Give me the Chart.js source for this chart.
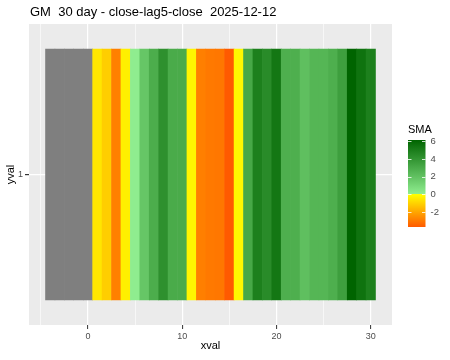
<!DOCTYPE html>
<html>
<head>
<meta charset="utf-8">
<script src="https://cdn.jsdelivr.net/npm/chart.js@4.4.1/dist/chart.umd.min.js"></script>
<style>
  html, body { margin: 0; padding: 0; background: #fff; }
</style>
</head>
<body>
<canvas id="chart" width="450" height="360"></canvas>
<script>
// one tile per day, NA (grey) for the first few
const xval = [-4, -3, -2, -1, 0, 1, 2, 3, 4, 5, 6, 7, 8, 9, 10, 11, 12, 13, 14, 15,
              16, 17, 18, 19, 20, 21, 22, 23, 24, 25, 26, 27, 28, 29, 30];
const sma = [null, null, null, null, null,
             -0.56, -1.1, -2.85, -0.34, 0.05, 1.8, 2.9, 4.2, 3.0, 3.0,
             -0.22, -2.87, -3.0, -3.05, -3.7, -0.15, 3.1, 4.9, 4.4, 5.3,
             2.8, 2.8, 2.1, 2.5, 2.5, 2.8, 3.5, 6.15, 5.5, 4.9];
const yval = ['1'];
const xTicks = [0, 10, 20, 30];
const xMinor = [-5, 5, 15, 25];
const legendTicks = [6, 4, 2, 0, -2];

const font = "'Liberation Sans', Arial, sans-serif";
const smaVals = sma.filter(v => v !== null);
const smaMin = Math.min(...smaVals);
const smaMax = Math.max(...smaVals);

const lowCol = [255, 90, 0];
const zeroNeg = [255, 255, 0];
const zeroPos = [144, 238, 144];
const highCol = [0, 100, 0];

function mix(a, b, t) {
	return 'rgb(' + a.map((c, i) => Math.round(c + (b[i] - c) * t)).join(',') + ')';
}
function fillFor(v) {
	if (v === null) return '#7F7F7F';
	if (v >= 0) return mix(zeroPos, highCol, v / smaMax);
	return mix(zeroNeg, lowCol, v / smaMin);
}

const panelBg = {
	id: 'panelBg',
	beforeDraw(chart) {
		const { ctx, chartArea: a } = chart;
		ctx.save();
		ctx.fillStyle = '#EBEBEB';
		ctx.fillRect(a.left, a.top, a.right - a.left, a.bottom - a.top);
		ctx.restore();
	}
};

const titleAndLegend = {
	id: 'titleAndLegend',
	afterDraw(chart) {
		const ctx = chart.ctx;
		ctx.save();
		ctx.fillStyle = '#000';
		ctx.font = '13px ' + font;
		ctx.textBaseline = 'middle';
		ctx.textAlign = 'left';
		ctx.fillText('GM  30 day - close-lag5-close  2025-12-12', 30, 12);

		// colour bar
		const bx = 408, bw = 17.5, top = 140, bottom = 227;
		const py = v => top + (smaMax - v) / (smaMax - smaMin) * (bottom - top);
		const z = (py(0) - top) / (bottom - top);
		const g = ctx.createLinearGradient(0, top, 0, bottom);
		g.addColorStop(0, mix(highCol, highCol, 0));
		g.addColorStop(z, mix(zeroPos, zeroPos, 0));
		g.addColorStop(Math.min(1, z + 0.001), mix(zeroNeg, zeroNeg, 0));
		g.addColorStop(1, mix(lowCol, lowCol, 0));
		ctx.fillStyle = g;
		ctx.fillRect(bx, top, bw, bottom - top);

		ctx.fillStyle = '#000';
		ctx.font = '11px ' + font;
		ctx.fillText('SMA', bx, 130);

		ctx.font = '9.5px ' + font;
		ctx.strokeStyle = 'rgba(255,255,255,0.8)';
		ctx.lineWidth = 1;
		legendTicks.forEach(t => {
			const y = Math.round(py(t)) + 0.5;
			ctx.beginPath();
			ctx.moveTo(bx, y); ctx.lineTo(bx + 3.5, y);
			ctx.moveTo(bx + bw - 3.5, y); ctx.lineTo(bx + bw, y);
			ctx.stroke();
			ctx.fillStyle = '#4D4D4D';
			ctx.fillText(String(t), bx + bw + 5, py(t));
		});
		ctx.restore();
	}
};

new Chart(document.getElementById('chart'), {
	type: 'bar',
	data: {
		datasets: [{
			data: xval.map(x => ({ x: x, y: [0.5, 1.5] })),
			backgroundColor: sma.map(fillFor),
			borderWidth: 0,
			barPercentage: 1,
			categoryPercentage: 1,
			inflateAmount: 0.3
		}]
	},
	options: {
		responsive: false,
		animation: false,
		events: [],
		layout: { padding: { top: 24, right: 58, left: 0, bottom: 0 } },
		plugins: { legend: { display: false }, tooltip: { enabled: false } },
		scales: {
			x: {
				type: 'linear',
				min: -6.25,
				max: 32.25,
				offset: false,
				afterBuildTicks: s => {
					s.ticks = [...xMinor, ...xTicks].sort((a, b) => a - b).map(v => ({ value: v }));
				},
				afterFit: s => { s.height = 35; },
				border: { display: false },
				grid: {
					offset: false,
					color: '#FFFFFF',
					lineWidth: c => xTicks.includes(c.tick.value) ? 1.2 : 0.6,
					tickColor: c => xTicks.includes(c.tick.value) ? '#333333' : 'rgba(0,0,0,0)',
					tickLength: 4,
					tickWidth: 1
				},
				ticks: {
					autoSkip: false,
					maxRotation: 0,
					padding: 2,
					color: '#4D4D4D',
					font: { family: font, size: 9 },
					callback: v => xTicks.includes(v) ? String(v) : ''
				},
				title: {
					display: true,
					text: 'xval',
					color: '#000',
					font: { family: font, size: 11 },
					padding: { top: 0, bottom: 7 }
				}
			},
			y: {
				type: 'linear',
				min: 0.4,
				max: 1.6,
				afterBuildTicks: s => { s.ticks = [{ value: 1 }]; },
				afterFit: s => { s.width = 29; },
				border: { display: false },
				grid: {
					color: '#FFFFFF',
					lineWidth: 1.2,
					tickColor: '#333333',
					tickLength: 4
				},
				ticks: {
					padding: 2,
					color: '#4D4D4D',
					font: { family: font, size: 9 },
					callback: () => yval[0]
				},
				title: {
					display: true,
					text: 'yval',
					color: '#000',
					font: { family: font, size: 11 },
					padding: { top: 4, bottom: 0 }
				}
			}
		}
	},
	plugins: [panelBg, titleAndLegend]
});
</script>
</body>
</html>
